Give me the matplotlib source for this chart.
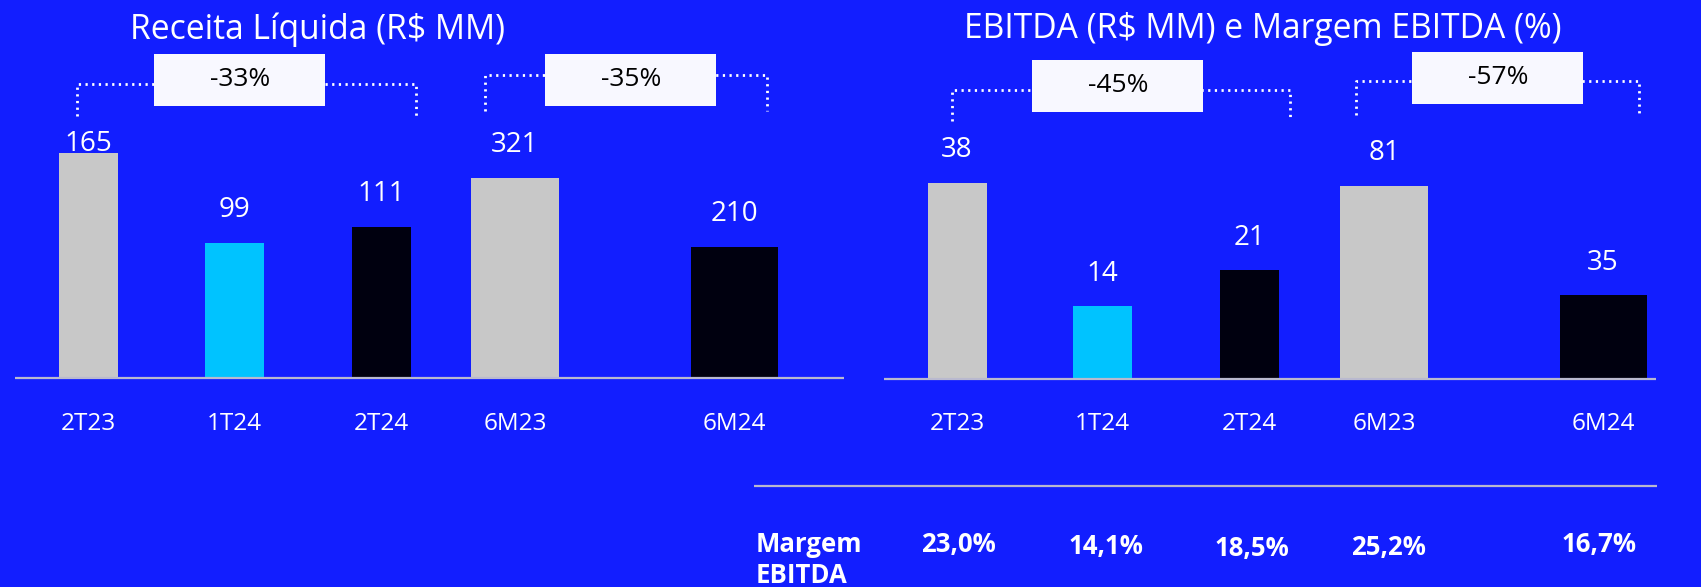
import matplotlib
matplotlib.use("Agg")
import matplotlib.pyplot as plt
from matplotlib.patches import Rectangle

# data
categories = ["2T23", "1T24", "2T24", "6M23", "6M24"]
receita = [165, 99, 111, 321, 210]
ebitda = [38, 14, 21, 81, 35]
margem = ["23,0%", "14,1%", "18,5%", "25,2%", "16,7%"]
bar_colors = ["#C8C8C8", "#00C3FF", "#00000F", "#C8C8C8", "#00000F"]
quarterly = [0, 1, 2]      # index of quarter bars
semester = [3, 4]          # index of 6M bars

# layout (pixel units, figure is 1701 x 587)
W, H = 1701, 587
BG = "#121EFF"
FONT = "Open Sans"
left_x = [88, 234, 381, 515, 734]
right_x = [957, 1102, 1249, 1384, 1603]
widths = [59, 59, 59, 88, 87]

plt.rcParams["font.family"] = [FONT, "DejaVu Sans"]

fig = plt.figure(figsize=(W / 100, H / 100), dpi=100, facecolor=BG)

# overlay axes in pixel coordinates (y down)
ov = fig.add_axes([0, 0, 1, 1], zorder=5)
ov.set_xlim(0, W)
ov.set_ylim(H, 0)
ov.axis("off")
ov.patch.set_alpha(0)


def bar_axes(base_px, ylim):
    ax = fig.add_axes([0, (H - base_px) / H, 1, base_px / H])
    ax.set_xlim(0, W)
    ax.set_ylim(0, ylim)
    ax.axis("off")
    ax.patch.set_alpha(0)
    return ax


def draw_chart(values, xs, base_px, ylim_q, ylim_s, cap_px):
    axq = bar_axes(base_px, ylim_q)
    axs = bar_axes(base_px, ylim_s)
    for group, ax in ((quarterly, axq), (semester, axs)):
        for i in group:
            ax.bar(xs[i], values[i], width=widths[i], color=bar_colors[i])
            # value label above bar
            disp = ax.transData.transform((xs[i], values[i]))
            px, py = ov.transData.inverted().transform(disp)
            ly = max(py - 32.5, cap_px)
            ov.text(px, ly, str(values[i]), color="white", fontsize=20,
                    ha="center", va="center")
    for i, c in enumerate(categories):
        ov.text(xs[i], 430, c, color="white", fontsize=17.5,
                ha="center", va="baseline")


draw_chart(receita, left_x, 377.5, 277.6, 606, 144)
draw_chart(ebitda, right_x, 378.6, 73.5, 159, 0)

# base lines
line_col = "#B9B9CF"
ov.plot([15, 844], [378, 378], color=line_col, lw=1.6, solid_capstyle="butt")
ov.plot([884, 1656], [379, 379], color=line_col, lw=1.6, solid_capstyle="butt")
ov.plot([754, 1657], [486, 486], color=line_col, lw=1.6, solid_capstyle="butt")

# titles
ov.text(317, 39, "Receita Líquida (R$ MM)", color="white", fontsize=24.2,
        ha="center", va="baseline")
ov.text(1263, 38, "EBITDA (R$ MM) e Margem EBITDA (%)", color="white",
        fontsize=24.2, ha="center", va="baseline")


# variation brackets
def variation(a, b):
    return "{:.0f}%".format((b / a - 1) * 100)


brackets = [
    # left, right, top, bottom, box x0, box y0
    (77, 416, 84, 116, 154, 54, receita[0], receita[2]),
    (485, 767, 75, 111, 545, 54, receita[3], receita[4]),
    (951.5, 1290, 90, 121, 1032, 60, ebitda[0], ebitda[2]),
    (1356, 1639, 81, 115, 1412, 52, ebitda[3], ebitda[4]),
]
for l, r, t, b, bx, by, v0, v1 in brackets:
    ov.plot([l, l, r, r], [b, t, t, b], color="white", lw=2.0,
            linestyle=(0, (0.8, 1.6)), zorder=2)
    ov.add_patch(Rectangle((bx, by), 171, 52, facecolor="#F8F8FF",
                           edgecolor="none", zorder=3))
    ov.text(bx + 86, by + 25, variation(v0, v1), color="black", fontsize=19,
            ha="center", va="center", zorder=4)

# margin row
ov.text(756, 552, "Margem", color="white", fontsize=18.5, fontweight="bold",
        ha="left", va="baseline")
ov.text(756, 583, "EBITDA", color="white", fontsize=18.5, fontweight="bold",
        ha="left", va="baseline")
margin_x = [958, 1106, 1252, 1388, 1599]
margin_y = [552, 554, 556, 555, 552]
for x, y, m in zip(margin_x, margin_y, margem):
    ov.text(x, y, m, color="white", fontsize=18.5, fontweight="bold",
            ha="center", va="baseline")

fig.savefig("out.png", dpi=100, facecolor=BG)
